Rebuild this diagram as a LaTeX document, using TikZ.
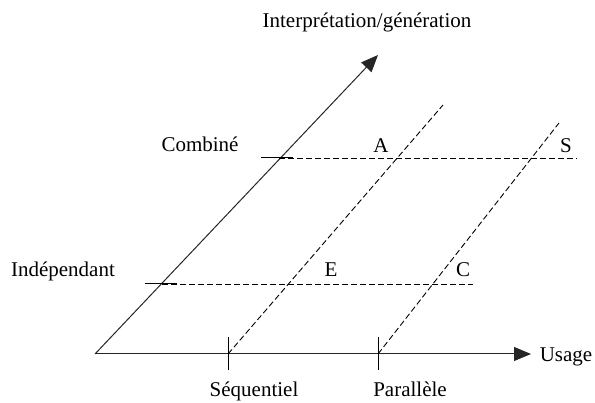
\documentclass[tikz,border=0pt]{standalone}
\usepackage{fontspec}
\setmainfont{Liberation Serif}
\usetikzlibrary{arrows.meta}
\begin{document}
\begin{tikzpicture}[x=1pt,y=-1pt,
  lbl/.style={anchor=base,inner sep=0pt,font=\fontsize{21}{25}\selectfont},
  axisline/.style={line width=1pt,black!85},
  tip/.style={-{Triangle[length=17pt,width=14pt]}},
  dashline/.style={line width=0.9pt,dash pattern=on 6pt off 3pt},
  tickline/.style={line width=1pt}]
\useasboundingbox (0,0) rectangle (595,403);
% coordinates
\coordinate (O) at (95,354);
\coordinate (Xend) at (531,354);
\coordinate (Yend) at (378,55);
\coordinate (Sq) at (228,354);
\coordinate (Pa) at (378,354);
\coordinate (SqT) at (228,337);
\coordinate (SqB) at (228,370);
\coordinate (PaT) at (378,337);
\coordinate (PaB) at (378,370);
\coordinate (Cb) at (279,158);
\coordinate (CbL) at (261,158);
\coordinate (CbR) at (293,158);
\coordinate (CbE) at (577,158);
\coordinate (Id) at (162,284);
\coordinate (IdL) at (145,284);
\coordinate (IdR) at (177,284);
\coordinate (IdE) at (473,284);
\coordinate (D1) at (443,105);
\coordinate (D2) at (559,123);
% axes
\draw[axisline,tip] (O) -- (Xend);
\draw[axisline,tip] (O) -- (Yend);
% ticks
\draw[tickline] (SqT) -- (SqB);
\draw[tickline] (PaT) -- (PaB);
\draw[tickline] (CbL) -- (CbR);
\draw[tickline] (IdL) -- (IdR);
% dashed lines
\draw[dashline] (Cb) -- (CbE);
\draw[dashline] (Id) -- (IdE);
\draw[dashline] (Sq) -- (D1);
\draw[dashline] (Pa) -- (D2);
% labels
\node[lbl] (ig) at (367,28) {Interprétation/génération};
\node[lbl] (cmb) at (200,152) {Combiné};
\node[lbl] (ind) at (63,277) {Indépendant};
\node[lbl] (a) at (381,153) {A};
\node[lbl] (s) at (566,153) {S};
\node[lbl] (e) at (331,277) {E};
\node[lbl] (c) at (463,277) {C};
\node[lbl] (seq) at (254,397) {Séquentiel};
\node[lbl] (par) at (410,397) {Parallèle};
\node[lbl] (us) at (566,362) {Usage};
\end{tikzpicture}
\end{document}
